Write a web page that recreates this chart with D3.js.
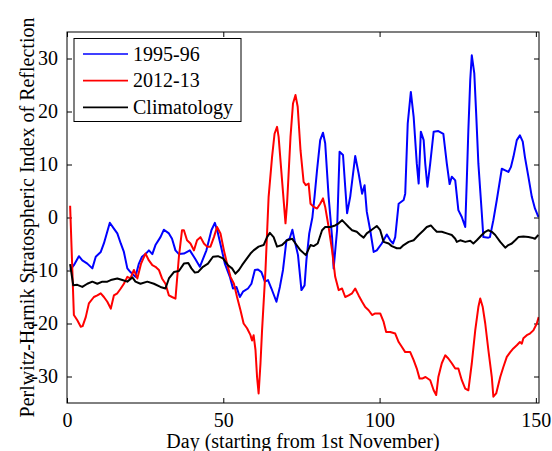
<!DOCTYPE html>
<html>
<head>
<meta charset="utf-8">
<script src="https://cdn.jsdelivr.net/npm/d3@7"></script>
<style>
  body { margin: 0; background: #fff; }
  svg { display: block; }
</style>
</head>
<body>
<div id="chart"></div>
<script>
// [day, index] pairs
const season9596 = [
  [1,-9.9],[2.2,-9.0],[3.8,-7.3],[4.9,-8.1],[6.5,-8.7],[8.1,-9.6],[9.2,-7.4],[10.8,-6.5],
  [11.8,-4.9],[13.7,-1.0],[15,-2.1],[16.1,-3.0],[17.2,-4.9],[18.2,-6.5],[19.3,-9.6],[20.3,-10.3],
  [21.9,-11.2],[23,-8.7],[24,-7.4],[25.1,-6.9],[26.2,-6.2],[27.3,-6.9],[28.3,-5.2],[29.9,-3.7],
  [31,-2.3],[32.6,-3.0],[33.6,-4.0],[34.7,-6.2],[35.8,-6.9],[37.4,-6.8],[39.3,-6.2],[40.9,-7.7],
  [42.5,-9.3],[44.6,-6.2],[46.2,-2.4],[47.3,-1.0],[48.3,-3.0],[49.4,-5.8],[50.5,-8.7],[52.1,-11.2],
  [53.1,-13.4],[54.2,-13.1],[55.3,-15.0],[56.3,-14.0],[57.9,-13.4],[59.0,-12.5],[60.1,-9.9],[61.1,-9.8],
  [62.2,-10.3],[63.3,-12.1],[64.3,-11.8],[65.4,-13.4],[67.0,-15.9],[68.1,-13.1],[69.1,-9.9],[70.2,-4.3],
  [71.2,-4.0],[72.1,-2.3],[72.8,-4.3],[73.9,-7.1],[75.0,-13.7],[76.0,-12.8],[76.6,-8.0],[77.5,-3.0],
  [78.5,0],[79.2,4],[80,9],[81,14.6],[81.9,16.0],[82.6,14.0],[83.7,3.9],[84.8,-3.7],
  [85.3,-9.6],[86.4,-2.4],[87.2,12.4],[88.3,11.8],[89.0,5.8],[89.6,0.8],[90.6,3.9],[92.2,11.6],
  [93.3,8.3],[94.4,4.5],[95.2,6.1],[95.9,1.1],[97.0,-2.4],[98.1,-6.5],[99.1,-6.2],[100.7,-4.9],
  [102.3,-3.2],[103.4,-4.3],[104.3,-4.9],[105.0,-3.7],[106.1,2.6],[107.7,3.3],[108.2,4.5],[109.0,17.7],
  [110.0,23.7],[110.9,19.0],[111.9,10.2],[112.5,6.4],[113.2,16.2],[114.1,14.6],[114.6,10.2],[115.3,5.8],
  [116.2,10.2],[117.3,16.2],[118.8,16.3],[120.4,15.8],[121.5,10.2],[122.4,6.3],[123.1,7.7],[124.2,7.0],
  [125.2,1.4],[126.3,0.1],[127.4,-1.8],[127.9,7.0],[128.4,16.5],[129.0,25.9],[129.5,30.6],[130.3,27.2],
  [130.9,19.6],[131.6,10.2],[132.7,0.8],[133.2,-3.7],[134.8,-3.8],[135.3,-3.7],[136.4,-0.5],[137.5,3.3],
  [139.1,9.2],[140.2,8.9],[141.2,8.6],[142.0,9.5],[142.8,11.4],[143.9,14.6],[144.9,15.5],[145.8,14.3],
  [146.5,11.4],[147.6,7.7],[148.7,3.9],[149.7,1.7],[150.8,0.1]
];

const season1213 = [
  [1,2.2],[2.2,-18.4],[3.3,-19.4],[4.4,-20.6],[5.0,-20.5],[6.0,-18.8],[7.0,-16.2],[8.6,-15.0],
  [9.7,-14.7],[10.8,-14.3],[11.8,-15.0],[12.9,-15.9],[14.0,-17.2],[15.0,-14.7],[16.1,-14.3],[17.2,-13.4],
  [18.2,-12.5],[19.3,-11.2],[20.3,-11.5],[21.4,-9.9],[22.5,-11.5],[23.7,-8.7],[25.1,-6.8],[26.2,-8.1],
  [27.3,-9.0],[28.3,-9.3],[29.4,-9.9],[30.4,-11.5],[31.5,-12.5],[32.6,-14.7],[33.6,-15.0],[34.7,-15.3],
  [35.8,-7.4],[36.8,-2.4],[37.4,-2.4],[38.4,-4.3],[39.5,-4.9],[40.6,-6.2],[41.6,-4.3],[42.7,-3.7],
  [43.8,-4.9],[44.8,-5.5],[45.9,-5.5],[47.0,-3.7],[48.0,-1.8],[49.1,-3.0],[50.2,-6.2],[51.2,-8.7],
  [52.3,-11.2],[53.4,-12.5],[54.4,-15.0],[55.5,-17.5],[56.5,-20.0],[57.6,-20.9],[58.7,-22.2],[59.2,-23.2],
  [59.7,-22.2],[60.3,-25.0],[60.8,-30.1],[61.3,-33.2],[61.9,-27.5],[62.4,-21.3],[63.5,-9.9],[64.5,3.9],
  [65.6,11.4],[66.4,15.8],[67.2,17.1],[67.7,15.2],[68.8,7.0],[69.9,-1.1],[70.4,2.6],[71.5,15.2],
  [72.3,21.5],[73.1,23.1],[73.8,20.9],[74.7,12.7],[75.7,6.7],[76.4,6.1],[77.3,6.4],[77.9,2.6],
  [78.9,2.0],[80.0,1.7],[81.0,2.6],[81.9,3.6],[82.6,2.0],[83.7,-1.8],[84.8,-6.2],[85.8,-11.2],
  [86.9,-13.7],[88.0,-13.4],[89.0,-15.0],[90.1,-14.7],[91.2,-14.3],[92.2,-13.4],[93.3,-14.7],[94.4,-15.9],
  [95.4,-16.9],[96.5,-17.5],[97.6,-18.4],[98.6,-18.1],[100.2,-18.1],[101.3,-19.7],[102.1,-21.6],[103.4,-21.6],
  [105.0,-21.9],[106.1,-23.5],[107.1,-24.4],[108.2,-25.4],[109.8,-25.4],[110.9,-26.9],[111.9,-28.5],[112.8,-30.4],
  [113.6,-30.4],[114.7,-30.1],[116.2,-30.7],[117.3,-32.6],[118.1,-33.5],[118.8,-30.1],[119.9,-27.5],[121.0,-26.0],
  [122.0,-26.6],[123.1,-27.5],[124.2,-28.5],[125.2,-28.5],[126.3,-30.7],[127.4,-32.3],[128.4,-32.6],[129.5,-27.5],
  [130.6,-21.3],[131.6,-16.9],[132.2,-15.3],[133.0,-16.9],[133.8,-20.0],[134.8,-25.0],[135.9,-30.1],[136.4,-33.8],
  [137.3,-33.2],[138.6,-30.1],[139.6,-28.2],[140.7,-26.3],[141.8,-25.4],[142.8,-24.7],[143.9,-24.1],[144.9,-23.5],
  [145.5,-23.8],[146.0,-22.8],[147.1,-22.2],[148.1,-21.9],[149.2,-21.3],[150.3,-20.0],[150.9,-18.8]
];

const climatology = [
  [1,-8.8],[2.0,-12.8],[3.3,-12.7],[4.9,-13.1],[6.5,-12.5],[8.1,-12.1],[9.7,-12.5],[11.3,-12.1],
  [12.9,-12.1],[14.0,-11.8],[16.1,-11.5],[17.7,-11.8],[19.3,-12.1],[20.9,-11.3],[21.9,-12.1],[23.5,-12.5],
  [25.7,-12.1],[27.8,-12.5],[29.9,-13.1],[31.5,-13.4],[32.6,-11.5],[34.2,-10.3],[35.8,-10.1],[37.4,-8.7],
  [38.8,-8.6],[39.8,-9.6],[40.9,-10.4],[41.9,-10.3],[43.5,-9.3],[45.1,-8.7],[46.7,-7.4],[48.3,-7.3],
  [49.9,-7.7],[51.5,-9.0],[52.8,-9.6],[53.9,-10.6],[55.0,-9.9],[56.0,-9.0],[57.1,-8.1],[58.7,-6.8],
  [59.7,-6.2],[61.3,-5.5],[62.9,-5.2],[64.0,-3.7],[64.9,-2.9],[66.1,-3.7],[67.2,-5.5],[68.8,-5.2],
  [70.4,-4.3],[72.0,-4.0],[73.1,-4.9],[74.7,-6.2],[76.4,-7.1],[77.9,-5.2],[78.9,-5.4],[80.2,-4.9],
  [81.6,-2.4],[82.6,-1.8],[84.2,-1.8],[85.8,-1.5],[86.9,-1.1],[88.0,-0.5],[89.0,-1.1],[90.1,-1.8],
  [91.2,-2.4],[92.7,-2.7],[93.8,-3.3],[94.9,-3.8],[95.9,-3.0],[97.5,-2.3],[99.1,-1.6],[100.2,-2.4],
  [101.3,-4.6],[102.9,-4.9],[103.9,-5.4],[105.5,-5.8],[106.6,-5.8],[107.7,-5.2],[109.3,-4.6],[110.9,-4.3],
  [112.5,-3.3],[114.1,-2.4],[115.1,-1.8],[116.4,-1.5],[117.3,-2.1],[118.3,-2.7],[119.9,-2.7],[121.5,-3.0],
  [123.1,-3.3],[124.2,-4.0],[124.7,-4.6],[125.8,-4.3],[127.4,-4.6],[129.0,-4.4],[130.0,-4.9],[131.1,-4.3],
  [132.7,-3.3],[133.8,-2.7],[134.8,-2.4],[135.9,-2.7],[137.0,-3.3],[138.6,-4.6],[140.2,-5.7],[141.2,-5.2],
  [142.3,-4.9],[143.4,-4.3],[144.4,-3.7],[146.0,-3.6],[147.6,-3.7],[148.7,-3.8],[149.7,-4.0],[150.8,-3.3]
];

const seriesNames = ["1995-96", "2012-13", "Climatology"];
const seriesColors = ["#0000ff", "#ff0000", "#000000"];
const xTicks = [0, 50, 100, 150];
const yTicks = [-30, -20, -10, 0, 10, 20, 30];

const FONT = "'Liberation Serif', 'Times New Roman', serif";

// set the dimensions and margins of the graph
const width = 552;
const height = 451;
const margin = { top: 32, right: 13, bottom: 48, left: 67 };

const svg = d3.select("#chart")
  .append("svg")
  .attr("width", width)
  .attr("height", height)
  .attr("font-family", FONT);

const x = d3.scaleLinear()
  .domain([0, 151])
  .range([margin.left, width - margin.right]);

const y = d3.scaleLinear()
  .domain([-35, 35])
  .range([height - margin.bottom, margin.top]);

svg.append("defs").append("clipPath")
  .attr("id", "plot")
  .append("rect")
  .attr("x", margin.left)
  .attr("y", margin.top)
  .attr("width", width - margin.left - margin.right)
  .attr("height", height - margin.top - margin.bottom);

// tick marks from d3.axis, pointing inward like matlab
const styleAxis = (g) => {
  g.attr("font-family", FONT).attr("font-size", 20);
  g.select(".domain").remove();
  g.selectAll(".tick line").attr("stroke", "#000");
  g.selectAll(".tick text").attr("fill", "#000");
};

// plain hyphen for negatives, as in the original figure
const fmt = (d) => (d < 0 ? "\u002D" + Math.abs(d) : String(d));

svg.append("g")
  .attr("transform", `translate(0,${height - margin.bottom})`)
  .call(d3.axisBottom(x).tickValues(xTicks).tickFormat(fmt).tickSizeInner(-5).tickSizeOuter(0).tickPadding(10))
  .call(styleAxis);

svg.append("g")
  .attr("transform", `translate(0,${margin.top})`)
  .call(d3.axisTop(x).tickValues(xTicks).tickFormat(() => "").tickSizeInner(-5).tickSizeOuter(0))
  .call(styleAxis);

svg.append("g")
  .attr("transform", `translate(${margin.left},0)`)
  .call(d3.axisLeft(y).tickValues(yTicks).tickFormat(fmt).tickSizeInner(-5).tickSizeOuter(0).tickPadding(9))
  .call(styleAxis);

svg.append("g")
  .attr("transform", `translate(${width - margin.right},0)`)
  .call(d3.axisRight(y).tickValues(yTicks).tickFormat(() => "").tickSizeInner(-5).tickSizeOuter(0))
  .call(styleAxis);

// the lines
const line = d3.line()
  .x((d) => x(d[0]))
  .y((d) => y(d[1]));

const allSeries = [season9596, season1213, climatology];

svg.append("g")
  .attr("clip-path", "url(#plot)")
  .selectAll("path")
  .data(allSeries)
  .join("path")
  .attr("d", line)
  .attr("fill", "none")
  .attr("stroke", (d, i) => seriesColors[i])
  .attr("stroke-width", 2)
  .attr("stroke-linejoin", "round");

// box
svg.append("rect")
  .attr("x", margin.left)
  .attr("y", margin.top)
  .attr("width", width - margin.left - margin.right)
  .attr("height", height - margin.top - margin.bottom)
  .attr("fill", "none")
  .attr("stroke", "#000")
  .attr("stroke-width", 1);

// legend
const legend = svg.append("g").attr("transform", "translate(74,38.5)");

legend.append("rect")
  .attr("width", 167)
  .attr("height", 83)
  .attr("fill", "#fff")
  .attr("stroke", "#000")
  .attr("stroke-width", 1);

const rows = legend.selectAll(".row")
  .data(seriesNames)
  .join("g")
  .attr("class", "row")
  .attr("transform", (d, i) => `translate(0,${15.5 + i * 26.7})`);

rows.append("line")
  .attr("x1", 9)
  .attr("x2", 54)
  .attr("stroke", (d, i) => seriesColors[i])
  .attr("stroke-width", 1.7);

rows.append("text")
  .attr("x", 59)
  .attr("y", 6.7)
  .attr("font-size", 20)
  .text((d) => d);

// axis labels
svg.append("text")
  .attr("x", (margin.left + width - margin.right) / 2)
  .attr("y", 448)
  .attr("text-anchor", "middle")
  .attr("font-size", 20)
  .text("Day (starting from 1st November)");

svg.append("text")
  .attr("transform", `translate(34,${(margin.top + height - margin.bottom) / 2}) rotate(-90)`)
  .attr("text-anchor", "middle")
  .attr("font-size", 20)
  .text("Perlwitz-Harnik Stratospheric Index of Reflection");
</script>
</body>
</html>
